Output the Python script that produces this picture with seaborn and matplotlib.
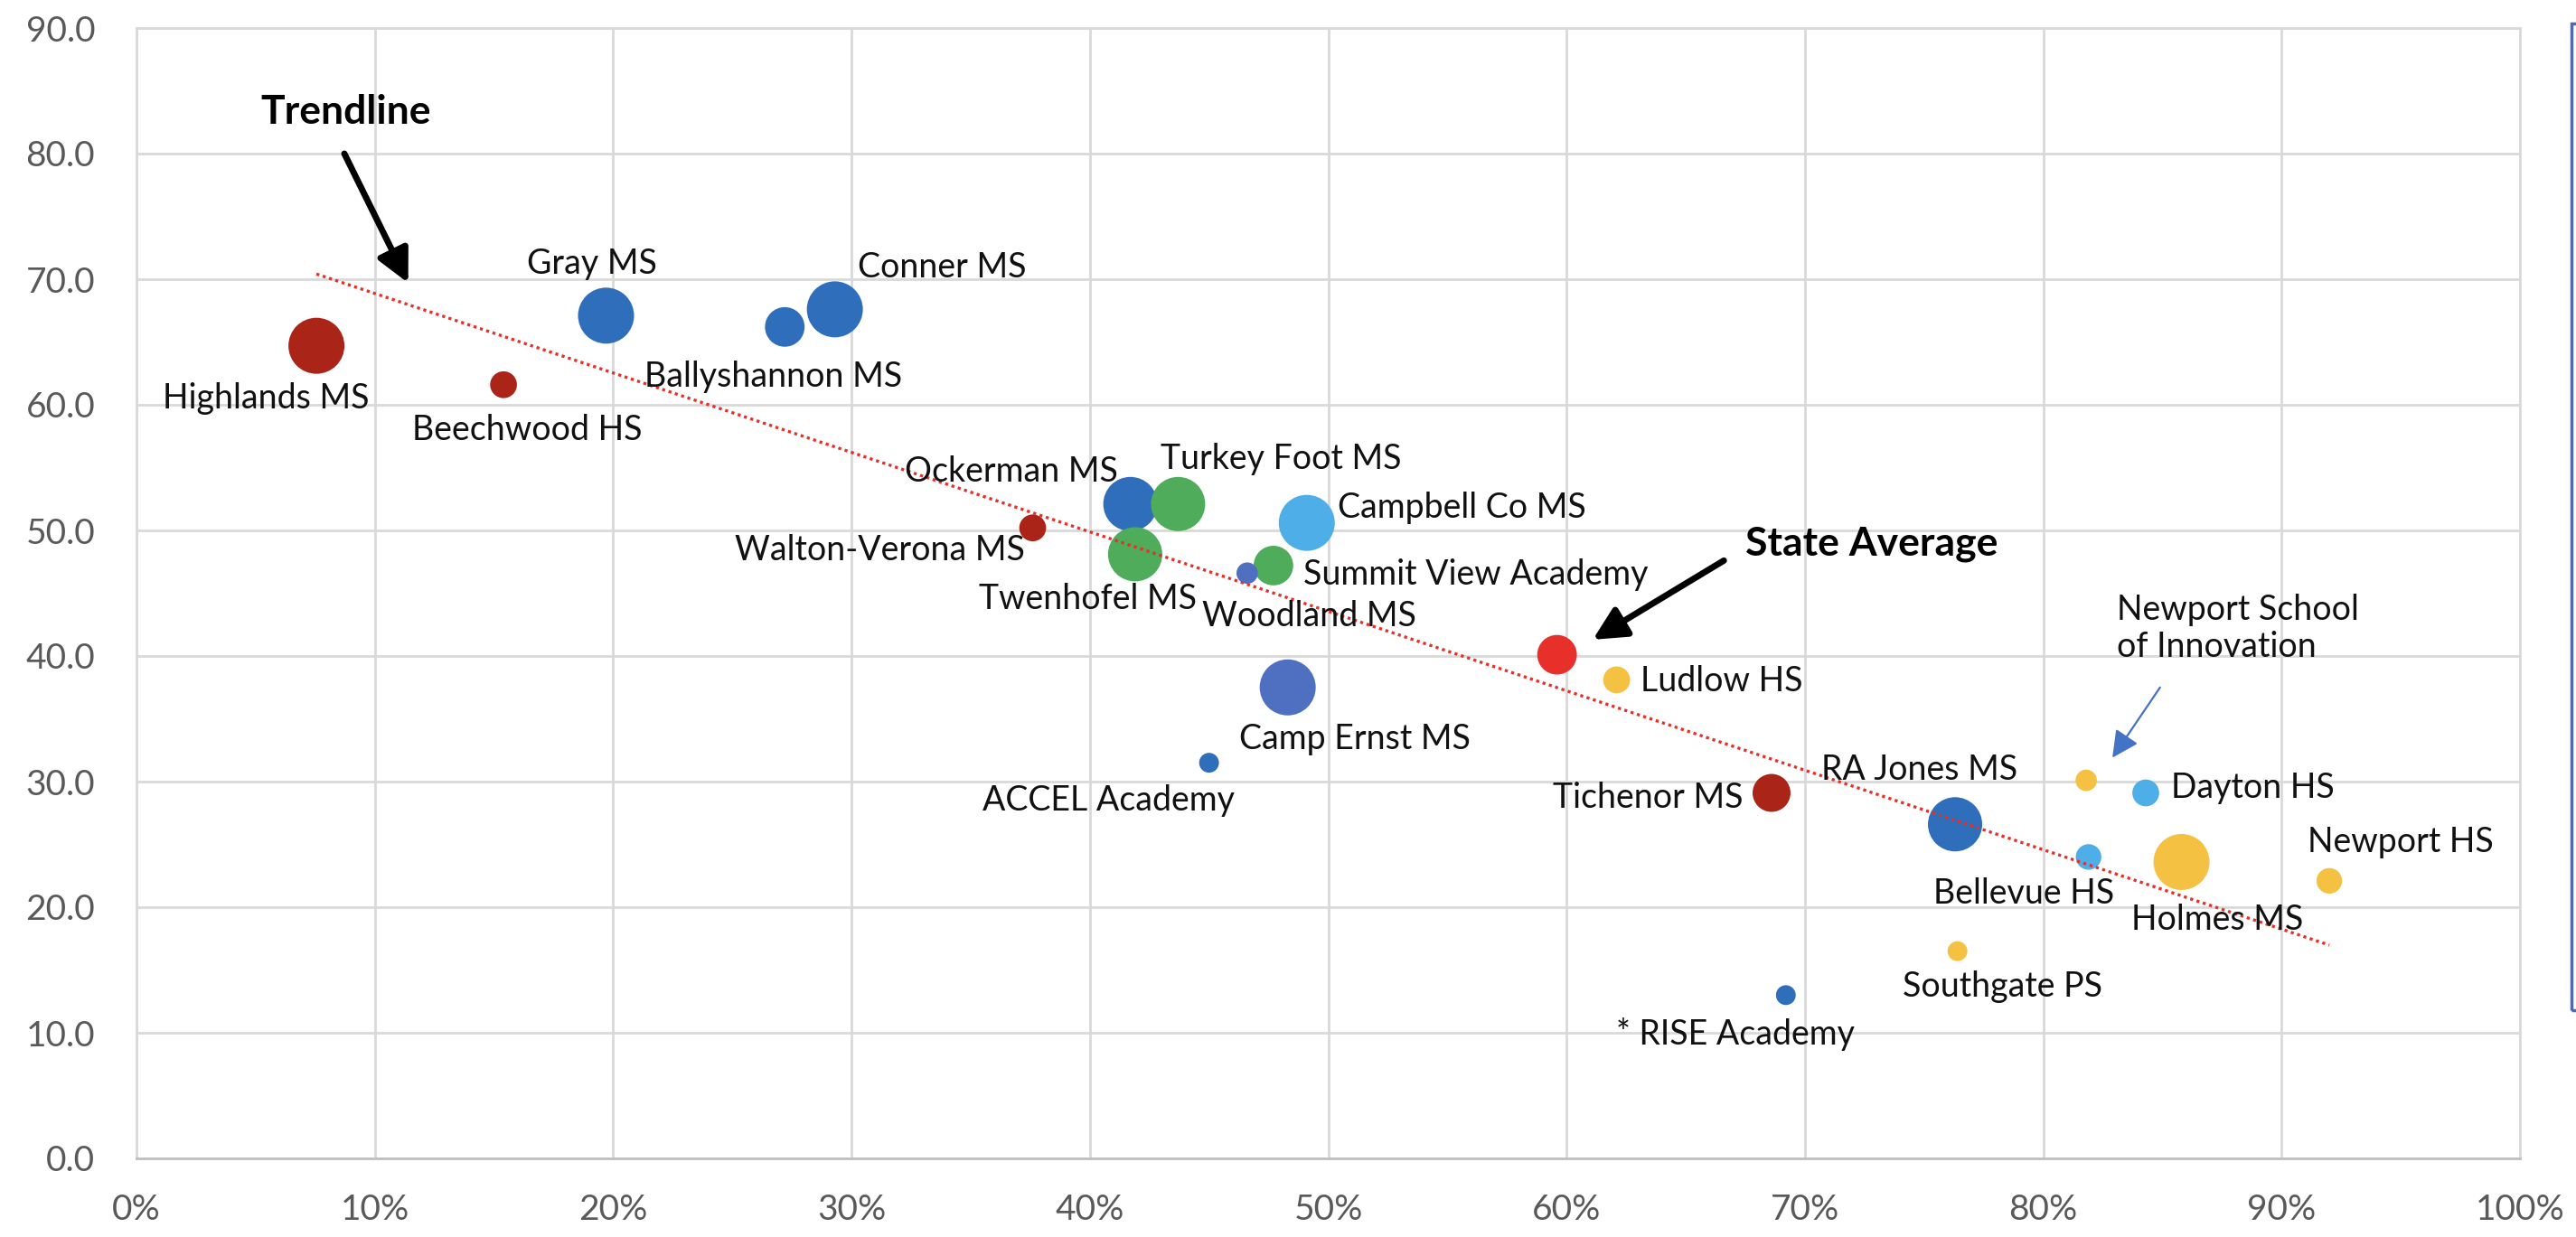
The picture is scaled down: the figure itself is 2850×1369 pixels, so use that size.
import numpy as np
import pandas as pd
import matplotlib
matplotlib.use("Agg")
import matplotlib.pyplot as plt
import seaborn as sns
from matplotlib.ticker import PercentFormatter, FormatStrFormatter, MultipleLocator
from matplotlib.patches import Rectangle

# ---------------- data ----------------
schools = ["Highlands MS", "Beechwood HS", "Walton-Verona MS", "Tichenor MS",
           "Gray MS", "Ballyshannon MS", "Conner MS", "Ockerman MS", "RA Jones MS",
           "ACCEL Academy", "* RISE Academy",
           "Campbell Co MS", "Bellevue HS", "Dayton HS",
           "Turkey Foot MS", "Twenhofel MS", "Summit View Academy",
           "Camp Ernst MS", "Woodland MS",
           "Ludlow HS", "Newport School\nof Innovation", "Southgate PS", "Holmes MS", "Newport HS",
           "State Average"]
pct = [0.0755, 0.154, 0.376, 0.686,
       0.197, 0.272, 0.293, 0.417, 0.763,
       0.450, 0.692,
       0.491, 0.819, 0.843,
       0.437, 0.419, 0.477,
       0.483, 0.466,
       0.621, 0.818, 0.764, 0.858, 0.920,
       0.596]
score = [64.7, 61.6, 50.2, 29.1,
         67.1, 66.2, 67.6, 52.1, 26.6,
         31.5, 13.0,
         50.6, 24.0, 29.1,
         52.1, 48.1, 47.2,
         37.5, 46.6,
         38.1, 30.1, 16.5, 23.6, 22.1,
         40.1]
bubble = [96, 22, 22, 44,
          96, 48, 96, 90, 90,
          12, 12,
          96, 20, 22,
          90, 90, 48,
          96, 14,
          22, 14, 12, 96, 20,
          48]
group = ["dark red"] * 4 + ["blue"] * 7 + ["light blue"] * 3 + ["green"] * 3 + \
        ["slate"] * 2 + ["yellow"] * 5 + ["state"]

# label anchor positions (data coords)
label_x = [0.0545, 0.164, 0.312, 0.634,
           0.191, 0.267, 0.338, 0.367, 0.748,
           0.408, 0.671,
           0.556, 0.792, 0.888,
           0.480, 0.399, 0.562,
           0.511, 0.492,
           0.665, 0.831, 0.783, 0.873, 0.950,
           0.728]
label_y = [60.5, 58.0, 48.4, 28.7,
           71.2, 62.2, 70.9, 54.7, 30.9,
           28.5, 9.9,
           51.8, 21.1, 29.5,
           55.7, 44.5, 46.5,
           33.4, 43.2,
           38.0, 42.2, 13.7, 19.0, 25.2,
           48.9]

palette = {"dark red": "#AA2418", "blue": "#2F6EBA", "light blue": "#4DAEE8",
           "green": "#4FAC5B", "slate": "#4F6FC0", "yellow": "#F4C142",
           "state": "#E8302A"}

df = pd.DataFrame({"school": schools, "pct": pct, "score": score,
                   "bubble": bubble, "group": group})

# ---------------- figure ----------------
W, H = 2850, 1369
sns.set_style("white")
plt.rcParams["font.family"] = ["Lato", "DejaVu Sans"]

fig = plt.figure(figsize=(W / 100, H / 100), dpi=100)
ax = fig.add_axes([151 / W, 1 - 1282 / H, (2788 - 151) / W, (1282 - 31) / H])

sns.scatterplot(data=df, x="pct", y="score", size="bubble", hue="group",
                palette=palette, sizes=(0, 2074), size_norm=(0, 100),
                linewidth=0, alpha=1, legend=False, ax=ax, zorder=3)

# trendline (linear fit of the schools)
schools_only = df[df["group"] != "state"]
sns.regplot(data=schools_only, x="pct", y="score", scatter=False, ci=None,
            truncate=True, ax=ax,
            line_kws=dict(color="#E8302A", lw=2.4, ls=(0, (1, 1.2)), zorder=4))

ax.set_xlim(0, 1)
ax.set_ylim(0, 90)
ax.xaxis.set_major_locator(MultipleLocator(0.1))
ax.yaxis.set_major_locator(MultipleLocator(10))
ax.xaxis.set_major_formatter(PercentFormatter(1.0, decimals=0))
ax.yaxis.set_major_formatter(FormatStrFormatter("%.1f"))
ax.set_xlabel("")
ax.set_ylabel("")
ax.grid(True, color="#D9D9D9", lw=2, zorder=0)
ax.set_axisbelow(True)
for side in ["top", "right", "left"]:
    ax.spines[side].set_color("#D9D9D9")
    ax.spines[side].set_linewidth(2)
ax.spines["bottom"].set_color("#BFBFBF")
ax.spines["bottom"].set_linewidth(2)
ax.tick_params(axis="both", length=0, labelsize=28, labelcolor="#595959")
ax.tick_params(axis="y", pad=33)
ax.tick_params(axis="x", pad=28)

# labels
for name, lx, ly in zip(schools, label_x, label_y):
    if name.startswith("Newport School"):
        ax.text(lx, ly, name, ha="left", va="center", fontsize=27,
                color="#111111", linespacing=1.2, zorder=5)
    elif name == "State Average":
        ax.text(lx, ly, name, ha="center", va="center", fontsize=32,
                fontweight="bold", color="black", zorder=5)
    else:
        ax.text(lx, ly, name, ha="center", va="center", fontsize=27,
                color="#111111", zorder=5)

ax.text(0.088, 83.3, "Trendline", ha="center", va="center", fontsize=32,
        fontweight="bold", color="black", zorder=5)

# arrows
black_arrow = dict(arrowstyle="-|>,head_length=1.1,head_width=0.55", lw=5,
                   color="black", mutation_scale=20, shrinkA=0, shrinkB=0)
ax.annotate("", xy=(0.114, 69.7), xytext=(0.0872, 80.0), arrowprops=black_arrow, zorder=6)
ax.annotate("", xy=(0.611, 41.3), xytext=(0.666, 47.6), arrowprops=black_arrow, zorder=6)
ax.annotate("", xy=(0.829, 31.9), xytext=(0.849, 37.5),
            arrowprops=dict(arrowstyle="-|>,head_length=0.9,head_width=0.45", lw=1.6,
                            color="#4472C4", mutation_scale=20, shrinkA=0, shrinkB=0),
            zorder=6)

# partial legend frame at right edge
fig.add_artist(Rectangle((2845 / W, 1 - 1118 / H), 0.2, (1118 - 26) / H,
                         transform=fig.transFigure, fill=False,
                         edgecolor="#4F6BAE", lw=2.5, clip_on=False))

fig.savefig("out.png", dpi=100, facecolor="white")
